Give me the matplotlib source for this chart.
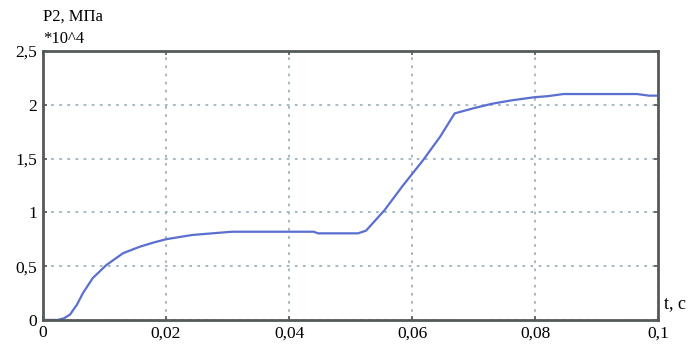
import numpy as np
import matplotlib.pyplot as plt
from matplotlib.ticker import FuncFormatter

# Pressure P2 (x 10^4 MPa) against time t (s)
t = [0.0, 0.0024, 0.0034, 0.0044, 0.0055, 0.0065, 0.0081, 0.0103, 0.013,
     0.0157, 0.018, 0.02, 0.0221, 0.0243, 0.0275, 0.0307, 0.0399, 0.044,
     0.0447, 0.0512, 0.0525, 0.0555, 0.0585, 0.0617, 0.0645, 0.0669,
     0.0701, 0.073, 0.076, 0.0798, 0.082, 0.0846, 0.0965, 0.0985, 0.1]
p2 = [0.0, 0.0, 0.015, 0.05, 0.14, 0.25, 0.39, 0.51, 0.62,
      0.68, 0.72, 0.75, 0.77, 0.79, 0.805, 0.82, 0.82, 0.82,
      0.805, 0.805, 0.83, 1.02, 1.25, 1.48, 1.7, 1.92,
      1.97, 2.01, 2.04, 2.07, 2.08, 2.1, 2.1, 2.085, 2.085]

x_ticks = [0, 0.02, 0.04, 0.06, 0.08, 0.1]
y_ticks = [0, 0.5, 1, 1.5, 2, 2.5]

plt.rcParams['font.family'] = ['Liberation Serif', 'DejaVu Serif']

fig = plt.figure(figsize=(6.93, 3.47), dpi=100)
ax = fig.add_axes([0.062, 0.078, 0.888, 0.775])

ax.plot(t, p2, color='#5a6fd0', linewidth=1.6)

ax.set_xlim(0, 0.1)
ax.set_ylim(0, 2.5)
ax.set_xticks(x_ticks)
ax.set_yticks(y_ticks)


def comma(v, pos):
    return ('%g' % v).replace('.', ',')


ax.xaxis.set_major_formatter(FuncFormatter(comma))
ax.yaxis.set_major_formatter(FuncFormatter(comma))
ax.tick_params(direction='in', length=3, width=1.2, color='#555555',
               labelsize=12.5, top=True, right=True, pad=4)

ax.grid(True, color='#9fb4bc', linestyle=(0, (1.5, 3)), linewidth=1.3)
for s in ax.spines.values():
    s.set_linewidth(2.0)
    s.set_color('#555a5a')

fig.text(0.062, 0.93, 'P2, МПа', fontsize=12, ha='left', va='bottom')
fig.text(0.062, 0.865, '*10^4', fontsize=12, ha='left', va='bottom')
fig.text(0.958, 0.1, 't, c', fontsize=13, ha='left', va='bottom')

fig.savefig('out.png', dpi=100)
